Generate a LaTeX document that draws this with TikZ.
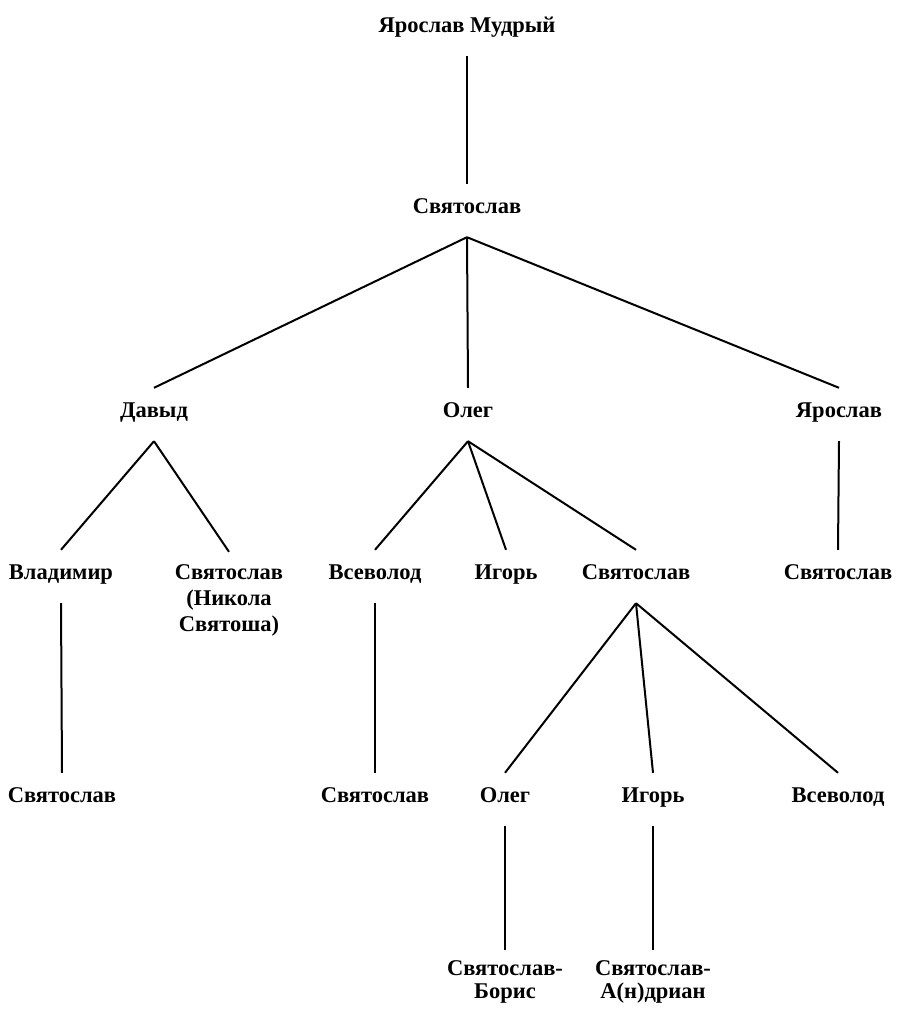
\documentclass[tikz,border=0pt]{standalone}
\usepackage{fontspec}
\setmainfont{Liberation Serif}
\begin{document}
\begin{tikzpicture}[x=1pt,y=-1pt,
  person/.style={anchor=base, inner sep=0pt, font=\fontsize{22.5}{25}\selectfont\bfseries, text height=29pt, text depth=24pt},
  multi/.style 2 args={anchor=base, inner sep=0pt, align=center, font=\fontsize{22.5}{#1}\selectfont\bfseries, text height=#2},
  link/.style={line width=2pt}]
\useasboundingbox[fill=white] (0,0) rectangle (897,1018);
% level 0
\node[person] (yam) at (467,32) {Ярослав Мудрый};
% level 1
\node[person] (sv) at (467,213) {Святослав};
% level 2
\node[person] (dav) at (154,417) {Давыд};
\node[person] (ol) at (468,417) {Олег};
\node[person] (yar) at (839,417) {Ярослав};
% level 3
\node[person] (vla) at (61,579) {Владимир};
\node[multi={26pt}{79pt}] (nik) at (229,631) {Святослав\\(Никола\\Святоша)};
\node[person] (vse) at (375,579) {Всеволод};
\node[person] (ig) at (506,579) {Игорь};
\node[person] (sv3) at (636,579) {Святослав};
\node[person] (sv3r) at (838,579) {Святослав};
% level 4
\node[person] (sv4a) at (62,802) {Святослав};
\node[person] (sv4b) at (375,802) {Святослав};
\node[person] (ol4) at (505,802) {Олег};
\node[person] (ig4) at (653,802) {Игорь};
\node[person] (vse4) at (838,802) {Всеволод};
% level 5
\node[multi={23.5pt}{48.5pt}] (bor) at (505,998.5) {Святослав-\\Борис};
\node[multi={23.5pt}{48.5pt}] (adr) at (653,998.5) {Святослав-\\А(н)дриан};
% links
\draw[link] (yam.south) -- (sv.north);
\draw[link] (sv.south) -- (dav.north);
\draw[link] (sv.south) -- (ol.north);
\draw[link] (sv.south) -- (yar.north);
\draw[link] (dav.south) -- (vla.north);
\draw[link] (dav.south) -- (nik.north);
\draw[link] (ol.south) -- (vse.north);
\draw[link] (ol.south) -- (ig.north);
\draw[link] (ol.south) -- (sv3.north);
\draw[link] (yar.south) -- (sv3r.north);
\draw[link] (vla.south) -- (sv4a.north);
\draw[link] (vse.south) -- (sv4b.north);
\draw[link] (sv3.south) -- (ol4.north);
\draw[link] (sv3.south) -- (ig4.north);
\draw[link] (sv3.south) -- (vse4.north);
\draw[link] (ol4.south) -- (bor.north);
\draw[link] (ig4.south) -- (adr.north);
\end{tikzpicture}
\end{document}
